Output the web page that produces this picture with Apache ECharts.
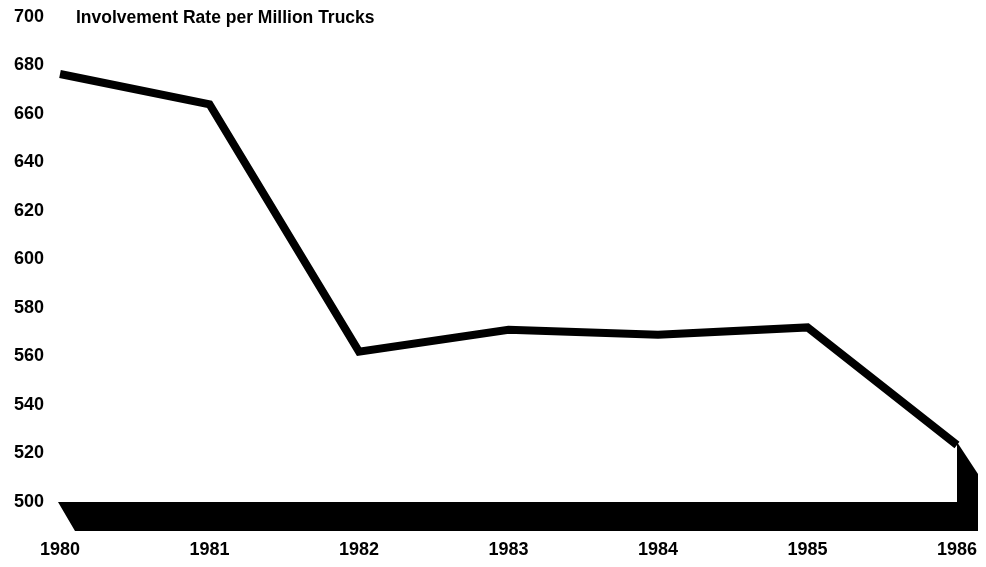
<!DOCTYPE html>
<html><head><meta charset="utf-8">
<script src="https://cdn.jsdelivr.net/npm/echarts@6/dist/echarts.min.js"></script>
<style>html,body{margin:0;padding:0;background:#fff}#c{width:986px;height:567px}</style>
</head><body><div id="c"></div>
<script>
const years = ['1980','1981','1982','1983','1984','1985','1986'];
const rates = [676.5, 664, 562, 571, 569, 572, 523.5];
const yTicks = [500, 520, 540, 560, 580, 600, 620, 640, 660, 680, 700];
const baseValue = 500;
const titleText = 'Involvement Rate per Million Trucks';

const chart = echarts.init(document.getElementById('c'));
const font = 'Liberation Sans, Arial, Helvetica, sans-serif';
chart.setOption({
  backgroundColor: '#fff',
  animation: false,
  title: { text: titleText, left: 71, top: 4,
    textStyle: { fontFamily: font, fontWeight: 'bold', fontSize: 17.5, color: '#000' } },
  grid: { left: 60, right: 29, top: 17, bottom: 65 },
  xAxis: { type: 'category', data: years, boundaryGap: false,
    axisLine: { show: false }, axisTick: { show: false }, splitLine: { show: false },
    axisLabel: { margin: 39, color: '#000', fontFamily: font, fontWeight: 'bold', fontSize: 18 } },
  yAxis: { type: 'value', min: yTicks[0], max: yTicks[yTicks.length - 1], interval: 20,
    axisLine: { show: false }, axisTick: { show: false }, splitLine: { show: false },
    axisLabel: { margin: 16, color: '#000', fontFamily: font, fontWeight: 'bold', fontSize: 18 } },
  series: [
    {
      type: 'custom',
      clip: false,
      silent: true,
      data: [[0]],
      renderItem: function (params, api) {
        const n = years.length - 1;
        const dx = 17, dy = 29;
        const pL = api.coord([0, baseValue]);
        const pR = api.coord([n, baseValue]);
        const pT = api.coord([n, rates[n]]);
        const pts = [
          [pL[0] - 2, pL[1]],
          [pR[0], pR[1]],
          [pT[0], pT[1] - 3],
          [pT[0] + dx + 4, pT[1] + dy],
          [pR[0] + dx + 4, pR[1] + dy],
          [pL[0] + dx - 2, pL[1] + dy]
        ];
        return { type: 'polygon', shape: { points: pts }, style: { fill: '#000' } };
      },
      z: 1
    },
    {
      type: 'line',
      data: rates,
      symbol: 'none',
      lineStyle: { color: '#000', width: 8, join: 'miter' },
      z: 2
    }
  ]
});
</script></body></html>
